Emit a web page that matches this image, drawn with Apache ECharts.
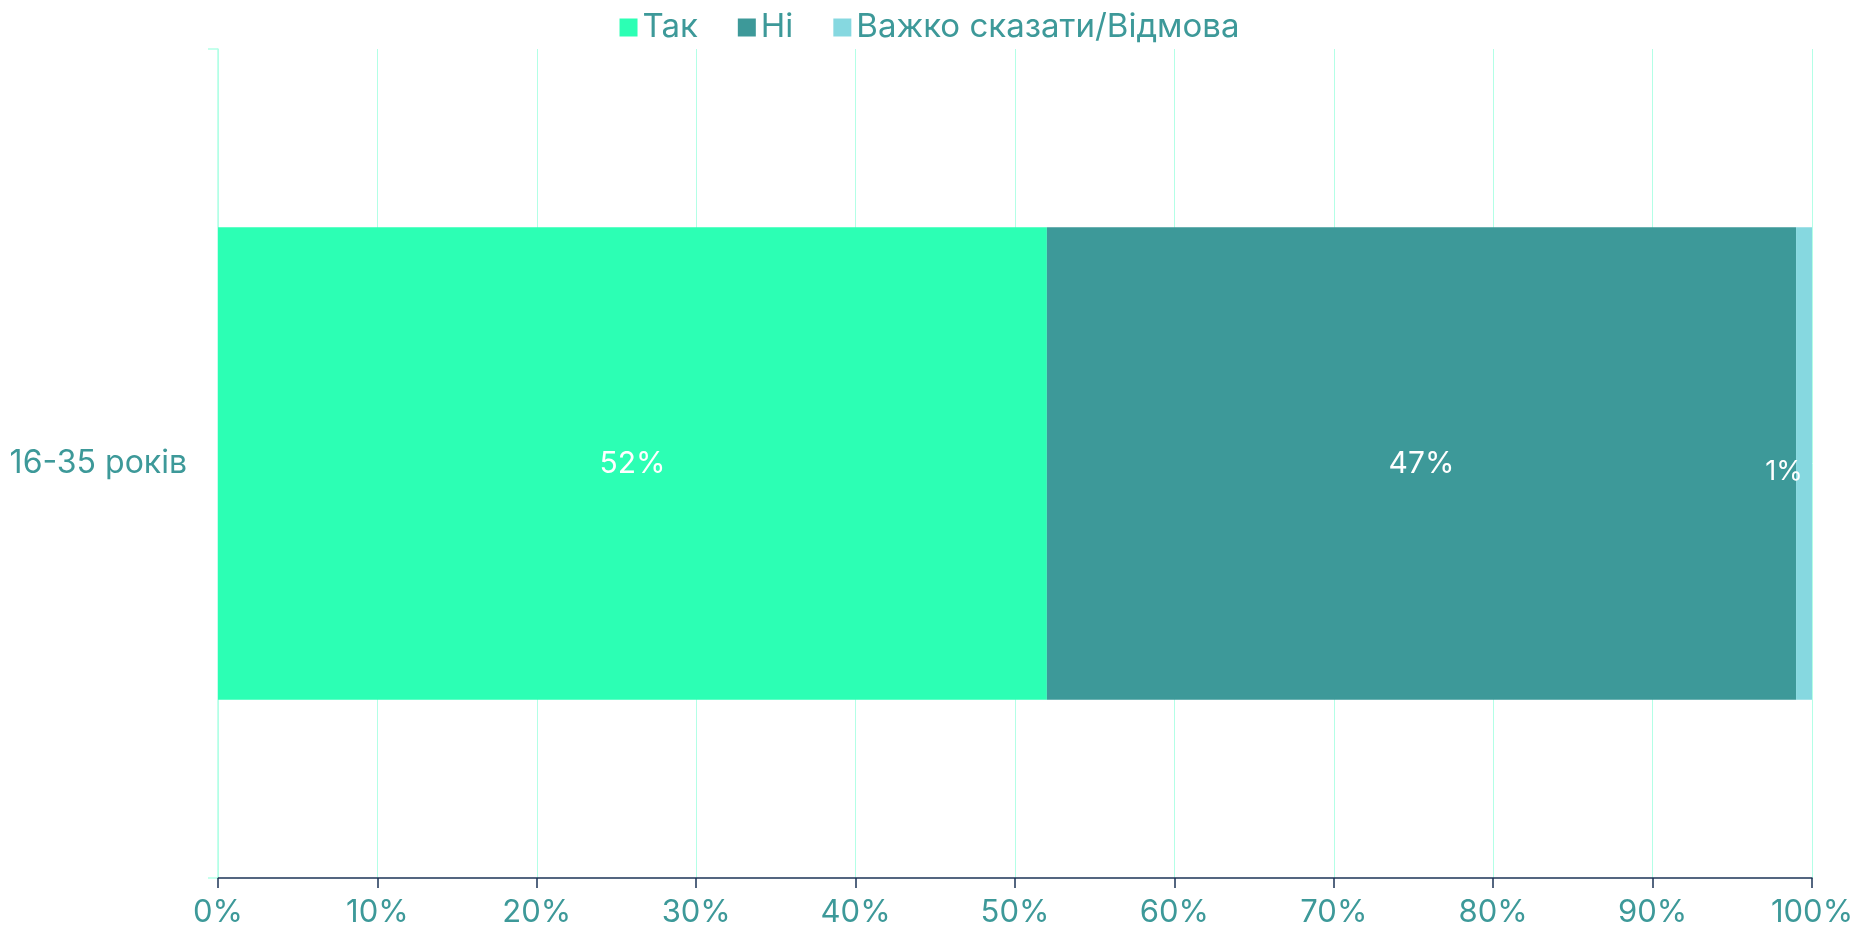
<!DOCTYPE html>
<html>
<head>
<meta charset="utf-8">
<script src="https://cdn.jsdelivr.net/npm/echarts@6/dist/echarts.min.js"></script>
<style>
  html, body { margin: 0; padding: 0; background: #fff; }
  #chart { width: 1859px; height: 937px; }
</style>
</head>
<body>
<div id="chart"></div>
<script>
// дані
var categories = ['16-35 років'];
var seriesNames = ['Так', 'Ні', 'Важко сказати/Відмова'];
var yesValues = [52];
var noValues = [47];
var hardValues = [1];
var colors = ['#2cffb4', '#3d9999', '#86d8e0'];

var FONT = 'Inter, "Noto Sans", sans-serif';
var chart = echarts.init(document.getElementById('chart'));

function makeSeries(name, data, color, label) {
  return {
    name: name,
    type: 'bar',
    stack: 'total',
    barWidth: '57%',
    itemStyle: { color: color },
    label: Object.assign({
      show: true,
      position: 'inside',
      color: '#fff',
      fontFamily: FONT,
      fontSize: 30,
      formatter: '{c}%'
    }, label || {}),
    data: data
  };
}

var option = {
  animation: false,
  legend: {
    top: 6,
    left: 'center',
    itemWidth: 18,
    itemHeight: 18,
    itemGap: 40,
    icon: 'rect',
    textStyle: { color: '#3d9999', fontSize: 33, fontFamily: FONT },
    data: seriesNames
  },
  grid: {
    left: 218,
    right: 47,
    top: 49,
    bottom: 59
  },
  xAxis: {
    type: 'value',
    min: 0,
    max: 100,
    interval: 10,
    axisLine: { show: true, lineStyle: { color: '#1d3557', width: 1.5 } },
    axisTick: { show: true, length: 10, lineStyle: { color: '#1d3557', width: 1.5 } },
    axisLabel: {
      formatter: '{value}%',
      color: '#3d9999',
      fontSize: 31,
      fontFamily: FONT,
      margin: 19
    },
    splitLine: { show: true, lineStyle: { color: '#b3ffe6', width: 1 } }
  },
  yAxis: {
    type: 'category',
    data: categories,
    axisLine: { show: true, lineStyle: { color: '#b3ffe6', width: 1.5 } },
    axisTick: { show: true, length: 10, lineStyle: { color: '#b3ffe6', width: 1.5 } },
    axisLabel: {
      color: '#3d9999',
      fontSize: 32,
      fontFamily: FONT,
      margin: 31
    }
  },
  series: [
    makeSeries(seriesNames[0], yesValues, colors[0]),
    makeSeries(seriesNames[1], noValues, colors[1]),
    makeSeries(seriesNames[2], hardValues, colors[2], { fontSize: 27, offset: [-20, 8] })
  ]
};

chart.setOption(option);
</script>
</body>
</html>
